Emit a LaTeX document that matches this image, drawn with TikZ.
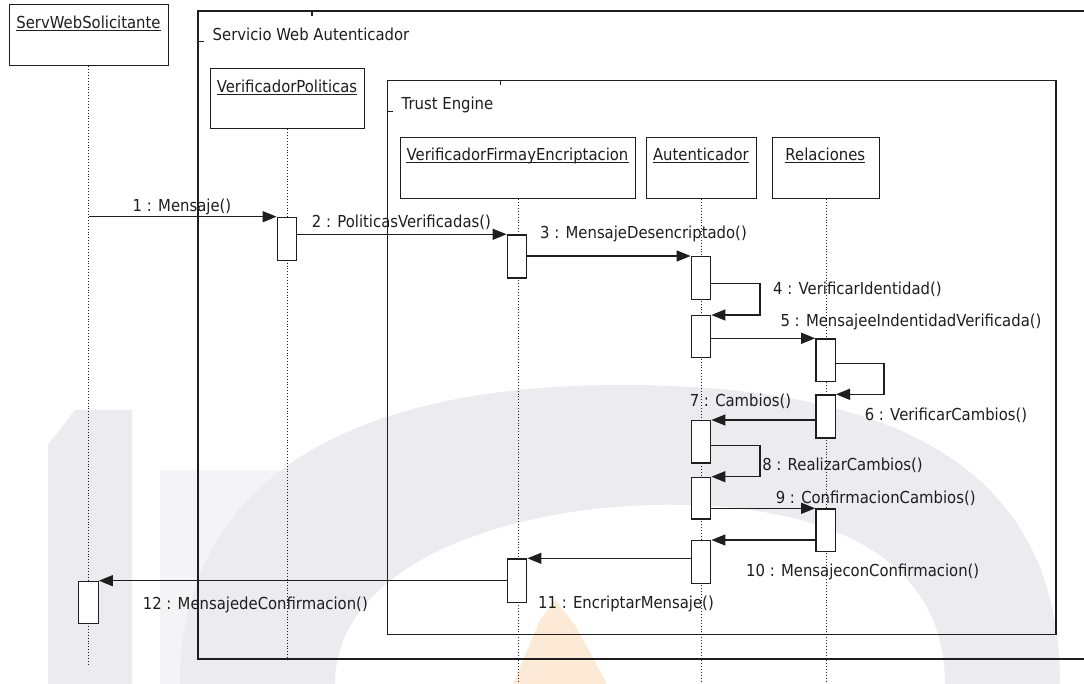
\documentclass[tikz,border=0pt]{standalone}
\usepackage{fontspec}
\setmainfont{DejaVu Sans}[FakeStretch=0.9]
\usetikzlibrary{arrows.meta}

\definecolor{ink}{RGB}{30,30,30}
\definecolor{wmgray}{RGB}{235,235,240}
\definecolor{wmlight}{RGB}{244,244,247}
\definecolor{wmpeach}{RGB}{253,234,214}

\tikzset{
  txt/.style={inner sep=0pt, font=\fontsize{16.5}{19}\selectfont, text=ink},
  frameline/.style={draw=ink, line width=1.4pt},
  headbox/.style={draw=ink, line width=1.3pt, fill=white, anchor=north west, inner sep=0pt},
  headtext/.style={txt, anchor=base},
  uline/.style={draw=ink, line width=1pt},
  lifeline/.style={draw=ink, line width=0.9pt, dotted},
  actbox/.style={draw=ink, line width=1.3pt, fill=white, minimum width=19.5pt, anchor=north, inner sep=0pt},
  msg/.style={draw=ink, line width=1.3pt, -{Triangle[length=14pt,width=11pt]}},
  msglabel/.style={txt, anchor=base},
}

\begin{document}
\begin{tikzpicture}[x=1pt, y=-1pt]
\useasboundingbox (0,0) rectangle (1084,684);
\fill[white] (0,0) rectangle (1084,684);

% faint background watermark
\fill[wmgray] (48,445) -- (75,410) -- (132,410) -- (132,684) -- (48,684) -- cycle;
\fill[wmlight] (160,470) rectangle (335,684);
\fill[wmgray, even odd rule]
  (180,684) .. controls (180,480) and (350,385) .. (620,385)
            .. controls (900,385) and (1060,470) .. (1060,684) -- cycle
  (335,684) .. controls (335,560) and (520,500) .. (690,505)
            .. controls (850,510) and (945,570) .. (945,684) -- cycle;
\fill[wmpeach] (513,684) -- (540,620) -- (555,600) -- (575,625) -- (607,684) -- cycle;

% combined fragments
\draw[frameline] (1084,11) -- (198,11) -- (198,659) -- (1084,659);
\draw[frameline] (312,11) -- (312,16);
\draw[frameline] (198,41.7) -- (204,41.7);
\node[txt, anchor=base west] (swa) at (212.5,40.7) {Servicio Web Autenticador};

\draw[frameline] (387.3,80.7) rectangle (1056,634.5);
\draw[frameline] (500.7,80.7) -- (500.7,85.5);
\draw[frameline] (387.3,111.7) -- (393,111.7);
\node[txt, anchor=base west] (te) at (401.5,110) {Trust Engine};

% lifeline heads
\node[headbox, minimum width=159.5pt, minimum height=61pt] (cli) at (8.5,4) {};
\node[headbox, minimum width=154pt, minimum height=60pt] (vp) at (210,68) {};
\node[headbox, minimum width=235pt, minimum height=61pt] (vfe) at (400,137) {};
\node[headbox, minimum width=110.3pt, minimum height=61pt] (aut) at (645.7,137) {};
\node[headbox, minimum width=107.3pt, minimum height=61pt] (rel) at (771.7,137) {};

\node[headtext] (clit) at (88.5,29) {ServWebSolicitante};
\node[headtext] (vpt) at (287,93) {VerificadorPoliticas};
\node[headtext] (vfet) at (517.5,161) {VerificadorFirmayEncriptacion};
\node[headtext] (autt) at (700.9,161) {Autenticador};
\node[headtext] (relt) at (825.3,161) {Relaciones};
\foreach \t in {clit,vpt,vfet,autt,relt}
  \draw[uline] ([yshift=-1.6pt]\t.base west) -- ([yshift=-1.6pt]\t.base east);

% lifelines
\coordinate (cliend) at (89,666);
\coordinate (vpend) at (287,660);
\coordinate (bottom) at (0,684);
\draw[lifeline] (cli.south) -- (cli.south |- cliend);
\draw[lifeline] (vp.south) -- (vp.south |- vpend);
\draw[lifeline] (vfe.south) -- (vfe.south |- bottom);
\draw[lifeline] (aut.south) -- (aut.south |- bottom);
\draw[lifeline] (rel.south) -- (rel.south |- bottom);

% activations
\node[actbox, minimum height=42.3pt] (c1) at (88.5,580.7) {};
\node[actbox, minimum height=43.3pt] (p1) at (287,216.7) {};
\node[actbox, minimum height=43pt] (v1) at (517,234.3) {};
\node[actbox, minimum height=43.4pt] (v2) at (517,558.3) {};
\node[actbox, minimum height=43pt] (a1) at (701,256) {};
\node[actbox, minimum height=41.7pt] (a2) at (701,315) {};
\node[actbox, minimum height=42.3pt] (a3) at (701,420) {};
\node[actbox, minimum height=41.6pt] (a4) at (701,476.7) {};
\node[actbox, minimum height=42.7pt] (a5) at (701,540) {};
\node[actbox, minimum height=42.7pt] (r1) at (825.6,338.3) {};
\node[actbox, minimum height=43pt] (r2) at (825.6,394.3) {};
\node[actbox, minimum height=42.7pt] (r3) at (825.6,508.3) {};

% messages
\draw[msg] (cli.south |- p1.north) -- (p1.north west);
\draw[msg] (p1.east |- v1.north) -- (v1.north west);
\draw[msg] (v1.east |- a1.north) -- (a1.north west);
\draw[msg] ([yshift=-27.3pt]a1.north east) -- ++(48.5,0) |- (a2.north east);
\draw[msg] (a2.east |- r1.north) -- (r1.north west);
\draw[msg] ([yshift=-25pt]r1.north east) -- ++(48,0) |- (r2.north east);
\draw[msg] (r2.west |- a3.north) -- (a3.north east);
\draw[msg] ([yshift=-25.7pt]a3.north east) -- ++(48.5,0) |- (a4.north east);
\draw[msg] (a4.east |- r3.north) -- (r3.north west);
\draw[msg] (r3.west |- a5.north) -- (a5.north east);
\draw[msg] (a5.west |- v2.north) -- (v2.north east);
\draw[msg] (v2.west |- c1.north) -- (c1.north east);

% message labels
\node[msglabel] (m1) at (182,211.5) {1 : Mensaje()};
\node[msglabel] (m2) at (401.4,228) {2 : PoliticasVerificadas()};
\node[msglabel] (m3) at (643.5,239) {3 : MensajeDesencriptado()};
\node[msglabel] (m4) at (857.4,295) {4 : VerificarIdentidad()};
\node[msglabel] (m5) at (911,326.5) {5 : MensajeeIndentidadVerificada()};
\node[msglabel] (m6) at (946,420) {6 : VerificarCambios()};
\node[msglabel] (m7) at (740.5,406.5) {7 : Cambios()};
\node[msglabel] (m8) at (842.5,470) {8 : RealizarCambios()};
\node[msglabel] (m9) at (875.7,503) {9 : ConfirmacionCambios()};
\node[msglabel] (m10) at (862.7,576.5) {10 : MensajeconConfirmacion()};
\node[msglabel] (m11) at (626,608.5) {11 : EncriptarMensaje()};
\node[msglabel] (m12) at (255.3,609) {12 : MensajedeConfirmacion()};
\end{tikzpicture}
\end{document}
